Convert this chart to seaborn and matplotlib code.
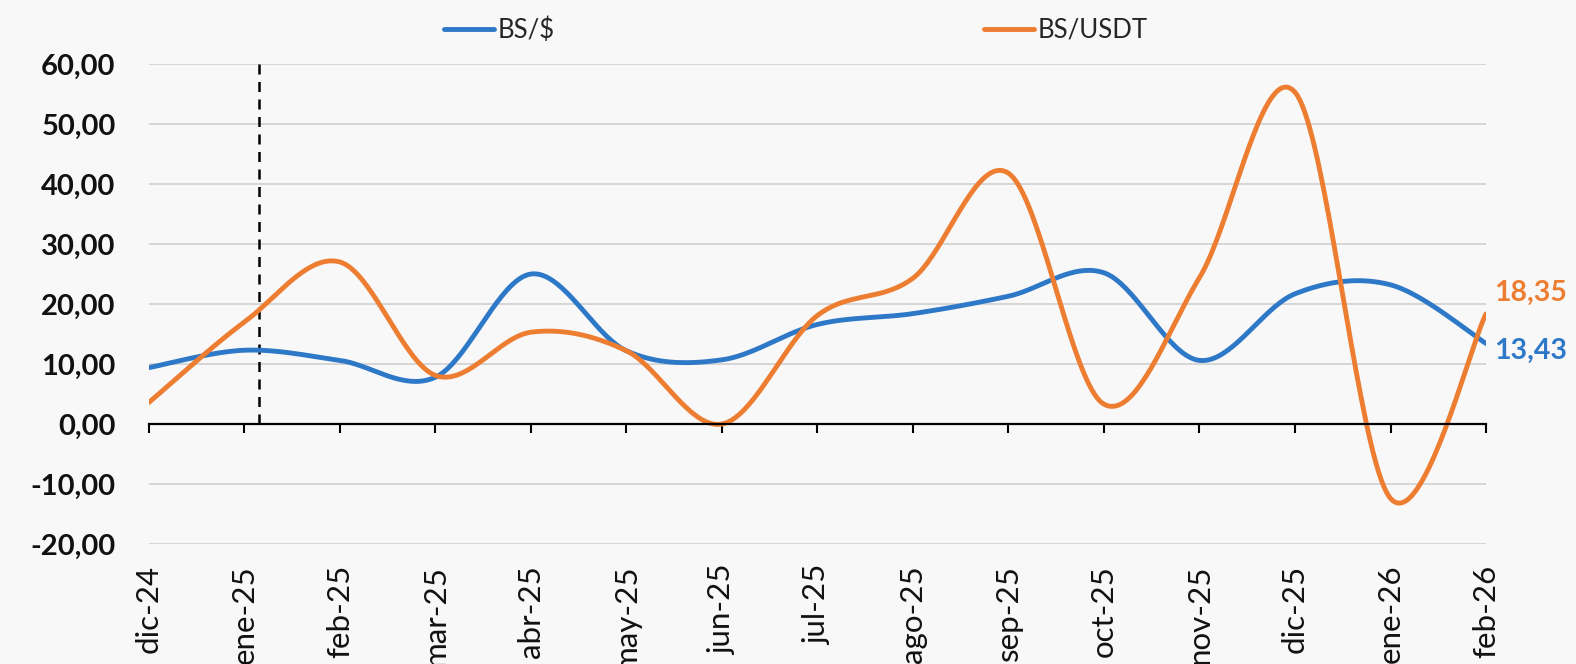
import matplotlib
matplotlib.use("Agg")
import matplotlib.pyplot as plt
from matplotlib.lines import Line2D
from matplotlib.ticker import FuncFormatter
import pandas as pd
import seaborn as sns
import numpy as np

# Data
months = ["dic-24", "ene-25", "feb-25", "mar-25", "abr-25", "may-25", "jun-25", "jul-25",
          "ago-25", "sep-25", "oct-25", "nov-25", "dic-25", "ene-26", "feb-26"]
bs_usd = [9.4, 12.3, 10.6, 7.8, 25.0, 12.2, 10.7, 16.6, 18.4, 21.3, 25.2, 10.6, 21.7, 23.2, 13.43]
bs_usdt = [3.6, 17.0, 27.0, 8.1, 15.3, 12.2, 0.0, 18.1, 24.3, 41.8, 3.3, 24.4, 55.3, -12.4, 18.35]
marker_month = 1.15  # dashed reference line, just after ene-25

BLUE = "#2E78C8"
ORANGE = "#ED7D31"


def smooth(y, n=40):
    # Excel-style smoothed line (cardinal Bezier through every point)
    pts = np.column_stack([np.arange(len(y), dtype=float), np.asarray(y, dtype=float)])
    out = []
    t = np.linspace(0, 1, n)[:, None]
    for i in range(len(pts) - 1):
        p0 = pts[max(i - 1, 0)]
        p1 = pts[i]
        p2 = pts[i + 1]
        p3 = pts[min(i + 2, len(pts) - 1)]
        c1 = p1 + (p2 - p0) / 6
        c2 = p2 - (p3 - p1) / 6
        seg = (1 - t) ** 3 * p1 + 3 * (1 - t) ** 2 * t * c1 + 3 * (1 - t) * t ** 2 * c2 + t ** 3 * p2
        out.append(seg if i == 0 else seg[1:])
    s = np.vstack(out)
    return pd.DataFrame({"x": s[:, 0], "y": s[:, 1]})


sns.set_theme(style="white")
plt.rcParams["font.family"] = ["Lato", "DejaVu Sans"]

fig = plt.figure(figsize=(15.76, 6.64), dpi=100, facecolor="#f8f8f8")
ax = fig.add_axes([0.0945, 0.1807, 0.8484, 0.7229])
ax.set_facecolor("none")

for v in range(-20, 70, 10):
    if v != 0:
        ax.axhline(v, color="#d3d3d3", lw=1.3, zorder=1)

ax.vlines(marker_month, 0, 60, colors="black", lw=1.8, linestyles=(0, (4, 3)), zorder=2)

sns.lineplot(data=smooth(bs_usd), x="x", y="y", sort=False, color=BLUE, lw=3.5, ax=ax, zorder=3)
sns.lineplot(data=smooth(bs_usdt), x="x", y="y", sort=False, color=ORANGE, lw=3.5, ax=ax, zorder=4)

ax.set_xlim(0, len(months) - 1)
ax.set_ylim(-20, 60)
ax.set_xlabel("")
ax.set_ylabel("")

for side in ["top", "right", "left"]:
    ax.spines[side].set_visible(False)
ax.spines["bottom"].set_position(("data", 0))
ax.spines["bottom"].set_color("black")
ax.spines["bottom"].set_linewidth(1.6)
ax.spines["bottom"].set_zorder(5)

ax.set_xticks(range(len(months)))
ax.tick_params(axis="x", direction="out", length=6.5, width=1.5, color="black", labelbottom=False, bottom=True)
ax.set_yticks(range(-20, 70, 10))
ax.yaxis.set_major_formatter(FuncFormatter(lambda v, p: f"{v:.2f}".replace(".", ",")))
ax.tick_params(axis="y", length=0, pad=24)
for lab in ax.get_yticklabels():
    lab.set_fontsize(21)
    lab.set_fontweight("bold")
    lab.set_color("#111111")

sec = ax.secondary_xaxis(0)
sec.set_xticks(range(len(months)))
sec.set_xticklabels(months, rotation=90, fontsize=22.5, color="#111111", va="top")
sec.tick_params(length=0, pad=15)
sec.spines["bottom"].set_visible(False)

# end-of-series labels
ax.annotate(f"{bs_usdt[-1]:.2f}".replace(".", ","), (len(months) - 1, bs_usdt[-1]),
            xytext=(6, 15), textcoords="offset points", ha="left", va="center",
            fontsize=20.5, fontweight="bold", color=ORANGE, annotation_clip=False)
ax.annotate(f"{bs_usd[-1]:.2f}".replace(".", ","), (len(months) - 1, bs_usd[-1]),
            xytext=(6, -5), textcoords="offset points", ha="left", va="center",
            fontsize=20.5, fontweight="bold", color=BLUE, annotation_clip=False)

# legend: two entries placed apart like the original
for label, color, left in [("BS/$", BLUE, 444), ("BS/USDT", ORANGE, 984)]:
    fig.legend(handles=[Line2D([], [], color=color, lw=3.5)], labels=[label],
               loc="center left", bbox_to_anchor=(left / 1576, 1 - 30 / 664),
               frameon=False, fontsize=18.5, handlelength=1.95, handletextpad=0.15,
               borderpad=0, borderaxespad=0)

fig.savefig("out.png", dpi=100, facecolor=fig.get_facecolor())
